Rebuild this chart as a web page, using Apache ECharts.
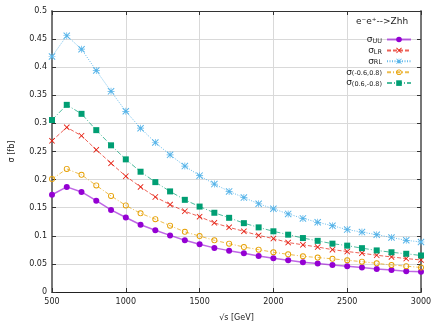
<!DOCTYPE html>
<html><head><meta charset="utf-8">
<script src="https://cdn.jsdelivr.net/npm/echarts@6/dist/echarts.min.js"></script>
<style>html,body{margin:0;padding:0;background:#fff}#c{width:436px;height:327px}</style>
</head><body><div id="c"></div>
<script>
const energies = [500,600,700,800,900,1000,1100,1200,1300,1400,1500,1600,1700,1800,1900,2000,2100,2200,2300,2400,2500,2600,2700,2800,2900,3000];
const sigmaUU = [0.173,0.187,0.178,0.1625,0.146,0.1325,0.1196,0.110,0.1007,0.092,0.085,0.0785,0.0736,0.069,0.064,0.060,0.0565,0.053,0.0507,0.048,0.046,0.0436,0.041,0.039,0.037,0.036];
const sigmaLR = [0.269,0.293,0.278,0.253,0.229,0.206,0.187,0.169,0.1555,0.1437,0.134,0.123,0.115,0.108,0.1007,0.095,0.088,0.084,0.080,0.0754,0.072,0.069,0.0654,0.0624,0.0595,0.057];
const sigmaRL = [0.419,0.456,0.432,0.394,0.357,0.3215,0.2915,0.266,0.244,0.224,0.207,0.192,0.179,0.168,0.157,0.148,0.139,0.131,0.124,0.118,0.111,0.1066,0.102,0.097,0.092,0.089];
const sigmaM = [0.201,0.219,0.2085,0.1896,0.171,0.154,0.140,0.1296,0.118,0.107,0.0995,0.092,0.086,0.080,0.0754,0.0707,0.067,0.0636,0.0613,0.059,0.0565,0.054,0.051,0.048,0.046,0.0436];
const sigmaP = [0.306,0.333,0.317,0.288,0.261,0.236,0.214,0.1955,0.179,0.164,0.152,0.141,0.132,0.1225,0.115,0.108,0.102,0.096,0.091,0.086,0.0825,0.078,0.074,0.0707,0.068,0.065];
const seriesNames = ['UU','LR','RL','(-0.6,0.8)','(0.6,-0.8)'];

const crossPath = 'path://M0,1L1,0L5,4L9,0L10,1L6,5L10,9L9,10L5,6L1,10L0,9L4,5Z';
const starPath = 'path://M0,1L1,0L10,9L9,10Z M9,0L10,1L1,10L0,9Z M4.5,0L5.5,0L5.5,10L4.5,10Z M0,4.5L10,4.5L10,5.5L0,5.5Z';
const ringPath = 'path://M0,5A5,5 0 1,0 10,5A5,5 0 1,0 0,5Z M1.5,5A3.5,3.5 0 1,1 8.5,5A3.5,3.5 0 1,1 1.5,5Z';

function pairs(v){ return energies.map((e,i)=>[e,v[i]]); }
const font = 'DejaVu Sans';
const chart = echarts.init(document.getElementById('c'), null, {renderer:'canvas'});

function mk(name, vals, color, symbol, size, lineType, width, opacity){
  return {
    name, type:'line', data: pairs(vals), symbol, symbolSize:size,
    color, itemStyle:{color},
    lineStyle:{color, width, type:lineType, opacity},
    animation:false, z:3
  };
}

chart.setOption({
  animation:false,
  textStyle:{fontFamily:font},
  grid:{left:46, right:15, top:11, bottom:33, containLabel:false},
  title:{text:'e⁻e⁺-->Zhh', left:356, top:17, textStyle:{fontFamily:font, fontSize:9, fontWeight:'normal', color:'#222'}, padding:0},
  legend:{
    orient:'vertical', align:'right', right:24, top:35, padding:0,
    itemWidth:24, itemHeight:7, itemGap:1.4,
    data: seriesNames,
    formatter: n => '{s|σ}{b|' + n + '}',
    textStyle:{fontFamily:font, color:'#222', rich:{
      s:{fontSize:9, lineHeight:10, fontFamily:font, color:'#222'},
      b:{fontSize:6.5, lineHeight:5, verticalAlign:'bottom', fontFamily:font, color:'#222'}
    }}
  },
  xAxis:[{
    type:'value', min:500, max:3000, interval:500,
    name:'√s [GeV]', nameLocation:'middle', nameGap:22,
    nameTextStyle:{fontFamily:font, fontSize:8, color:'#222'},
    axisLine:{show:true, onZero:false, lineStyle:{color:'#222', width:1}},
    axisTick:{show:true, inside:true, length:4, lineStyle:{color:'#333'}},
    axisLabel:{fontFamily:font, fontSize:8, color:'#222', margin:6, formatter: v => String(v)},
    splitLine:{show:true, lineStyle:{color:'#d9d9d9', width:1}}
  },{
    type:'value', position:'top', min:500, max:3000, interval:500,
    axisLine:{show:true, onZero:false, lineStyle:{color:'#333', width:1}},
    axisTick:{show:true, inside:true, length:4, lineStyle:{color:'#333'}},
    axisLabel:{show:false}, splitLine:{show:false}
  }],
  yAxis:[{
    type:'value', min:0, max:0.5, interval:0.05,
    name:'σ [fb]', nameLocation:'middle', nameGap:36,
    nameTextStyle:{fontFamily:font, fontSize:8, color:'#222'},
    axisLine:{show:true, onZero:false, lineStyle:{color:'#777', width:2}},
    axisTick:{show:true, inside:true, length:4, lineStyle:{color:'#333'}},
    axisLabel:{fontFamily:font, fontSize:8, color:'#222', margin:5, formatter: v => String(+v.toFixed(2))},
    splitLine:{show:true, lineStyle:{color:'#d9d9d9', width:1}}
  },{
    type:'value', position:'right', min:0, max:0.5, interval:0.05,
    axisLine:{show:true, onZero:false, lineStyle:{color:'#777', width:2}},
    axisTick:{show:true, inside:true, length:4, lineStyle:{color:'#333'}},
    axisLabel:{show:false}, splitLine:{show:false}
  }],
  series:[
    mk('UU', sigmaUU, '#9400d3', 'circle', 6, 'solid', 1.5, 0.6),
    mk('LR', sigmaLR, '#e51e10', crossPath, 6, [4,2], 1, 0.7),
    mk('RL', sigmaRL, '#56b4e9', starPath, 7, [1,1.5], 1, 0.9),
    mk('(-0.6,0.8)', sigmaM, '#e69f00', ringPath, 6, [4,2,1,2], 1, 0.7),
    mk('(0.6,-0.8)', sigmaP, '#009e73', 'rect', 6, [5,2,1,2], 1, 0.7)
  ]
});
</script>
</body></html>
